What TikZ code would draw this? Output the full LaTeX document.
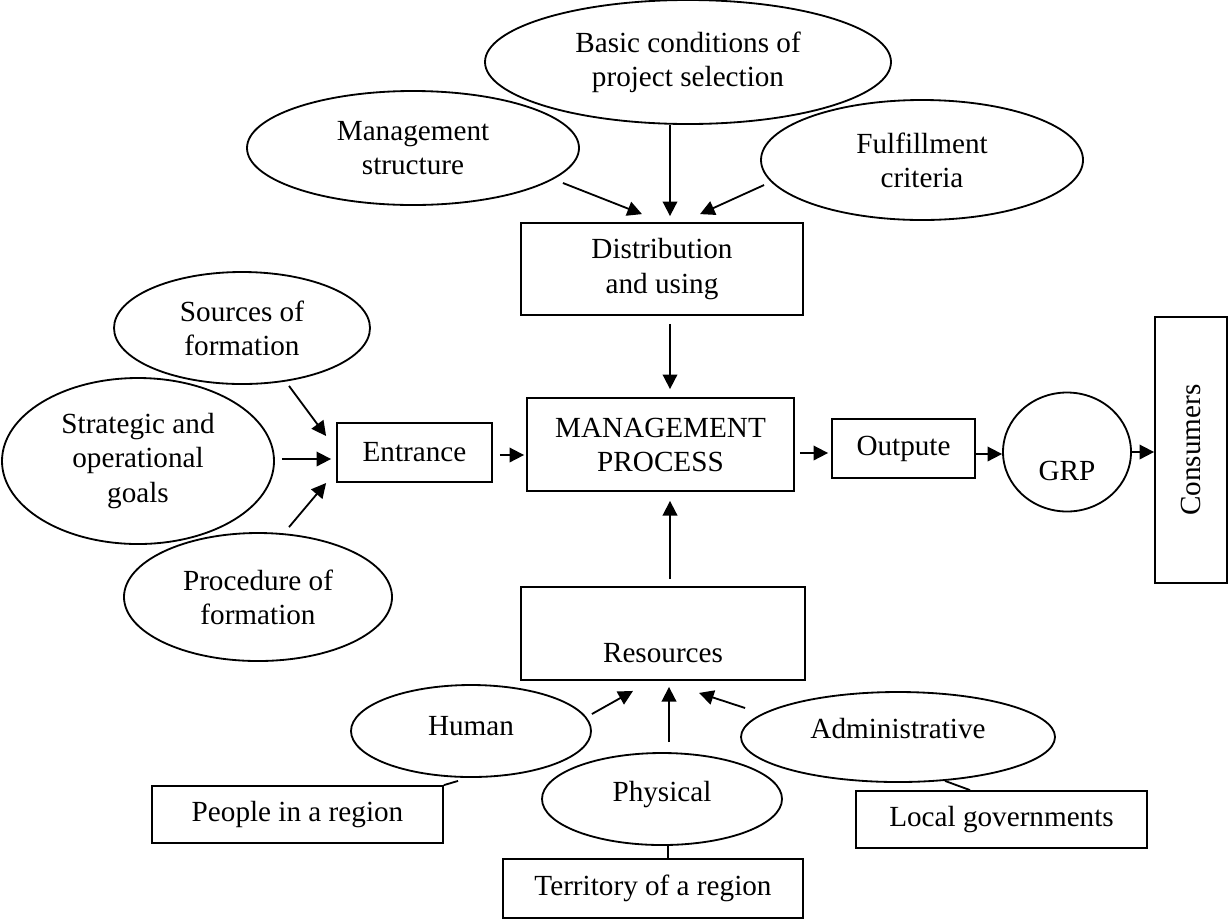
\documentclass[tikz,border=0pt]{standalone}
\usepackage{fontspec}
\setmainfont{Liberation Serif}
\usepackage{graphicx}
\usetikzlibrary{arrows.meta, shapes.geometric, calc}

\newlength{\pxl}
\setlength{\pxl}{0.01445cm}

\begin{document}
\begin{tikzpicture}[
    x=\pxl, y=-\pxl,
    dims/.style 2 args={minimum width=#1*\pxl, minimum height=#2*\pxl},
    oval/.style={
        draw, ellipse, line width=0.75pt, inner sep=0pt,
        align=center, font=\fontsize{12}{14}\selectfont
    },
    box/.style={
        draw, rectangle, line width=0.75pt, inner sep=0pt,
        align=center, font=\fontsize{12}{14}\selectfont
    },
    arr/.style={-{Triangle[length=6pt, width=6pt]}, line width=0.75pt},
    link/.style={line width=0.75pt},
]
\useasboundingbox (0,0) rectangle (1229,922);

%% Conditions of distribution
\node[oval, dims={406}{124}] (basic) at (688,62)
    {Basic conditions of\\project selection};
\node[oval, dims={332}{114}] (mstruct) at (413,148)
    {Management\\structure};
\node[oval, dims={322}{120}] (fulfil) at (922,160)
    {Fulfillment\\criteria};
\node[box, dims={282}{92}] (distr) at (662,269)
    {Distribution\\and using};

\draw[arr] ($(mstruct.east)+(-17,35)$) -- ($(distr.north)+(-20,-8)$);
\draw[arr] ($(basic.south)+(-18,0)$) -- ($(distr.north)+(8,-6)$);
\draw[arr] ($(fulfil.west)+(4,25)$) -- ($(distr.north)+(38,-8)$);

%% Inputs
\node[oval, dims={256}{112}] (sources) at (242,328)
    {Sources of\\formation};
\node[oval, dims={272}{166}] (goals) at (138,461)
    {Strategic and\\operational\\goals};
\node[oval, dims={268}{128}] (proc) at (258,597)
    {Procedure of\\formation};
\node[box, dims={155}{59}] (entr) at (414.5,452.5) {Entrance};

\draw[arr] ($(sources.south)+(47,1)$) -- ($(entr.west)+(-10,-16.5)$);
\draw[arr] ($(goals.east)+(7,-2)$) -- ($(entr.west)+(-5,6.5)$);
\draw[arr] ($(proc.north)+(31,-5)$) -- ($(entr.west)+(-10,30.5)$);

%% Management process and output
\node[box, dims={267}{93}] (mproc) at (660.5,444.5)
    {MANAGEMENT\\PROCESS};
\node[box, dims={143}{59}] (outp) at (903.5,448.5) {Outpute};
\node[oval, dims={128}{119}] (grp) at (1067,452) {\strut\\GRP};
\node[box, dims={72}{266}] (cons) at (1191,450)
    {\rotatebox{90}{Consumers}};

\draw[arr] ($(distr.south)+(8,8)$) -- ($(mproc.north)+(9.5,-8)$);
\draw[arr] ($(entr.east)+(7,2.5)$) -- ($(mproc.west)+(-2,10.5)$);
\draw[arr] ($(mproc.east)+(5,8.5)$) -- ($(outp.west)+(-3,4.5)$);
\draw[arr] ($(outp.east)+(0,5.5)$) -- ($(grp.west)+(0,2)$);
\draw[arr] (grp.east) -- ($(cons.west)+(0,2)$);

%% Resources
\node[box, dims={284}{93}] (res) at (663,633.5) {\strut\\Resources};
\node[oval, dims={240}{92}, text depth=4pt] (human) at (471,731) {Human};
\node[oval, dims={240}{92}, text depth=6pt] (phys) at (662,799) {Physical};
\node[oval, dims={314}{90}, text depth=7.4pt] (admin) at (898,737)
    {Administrative};

\draw[arr] ($(res.north)+(7,-7)$) -- ($(mproc.south)+(9.5,9)$);
\draw[arr] ($(human.east)+(0,-17)$) -- ($(res.south)+(-30,10)$);
\draw[arr] ($(phys.north)+(7,-10)$) -- ($(res.south)+(6,6)$);
\draw[arr] ($(admin.west)+(5,-29)$) -- ($(res.south)+(36,12)$);

%% Bearers of resources
\node[box, dims={291}{57}] (people) at (297.5,814.5) {People in a region};
\node[box, dims={291}{57}] (locgov) at (1001.5,819.5) {Local governments};
\node[box, dims={300}{59}] (terr) at (653,888.5) {Territory of a region};

\draw[link] ($(human.south)+(-13,3)$) -- (people.north east);
\draw[link] ($(admin.south)+(47,-2)$) -- ($(locgov.north)+(-31.5,0)$);
\draw[link] ($(phys.south)+(6,0)$) -- ($(terr.north)+(15,0)$);

\end{tikzpicture}
\end{document}
